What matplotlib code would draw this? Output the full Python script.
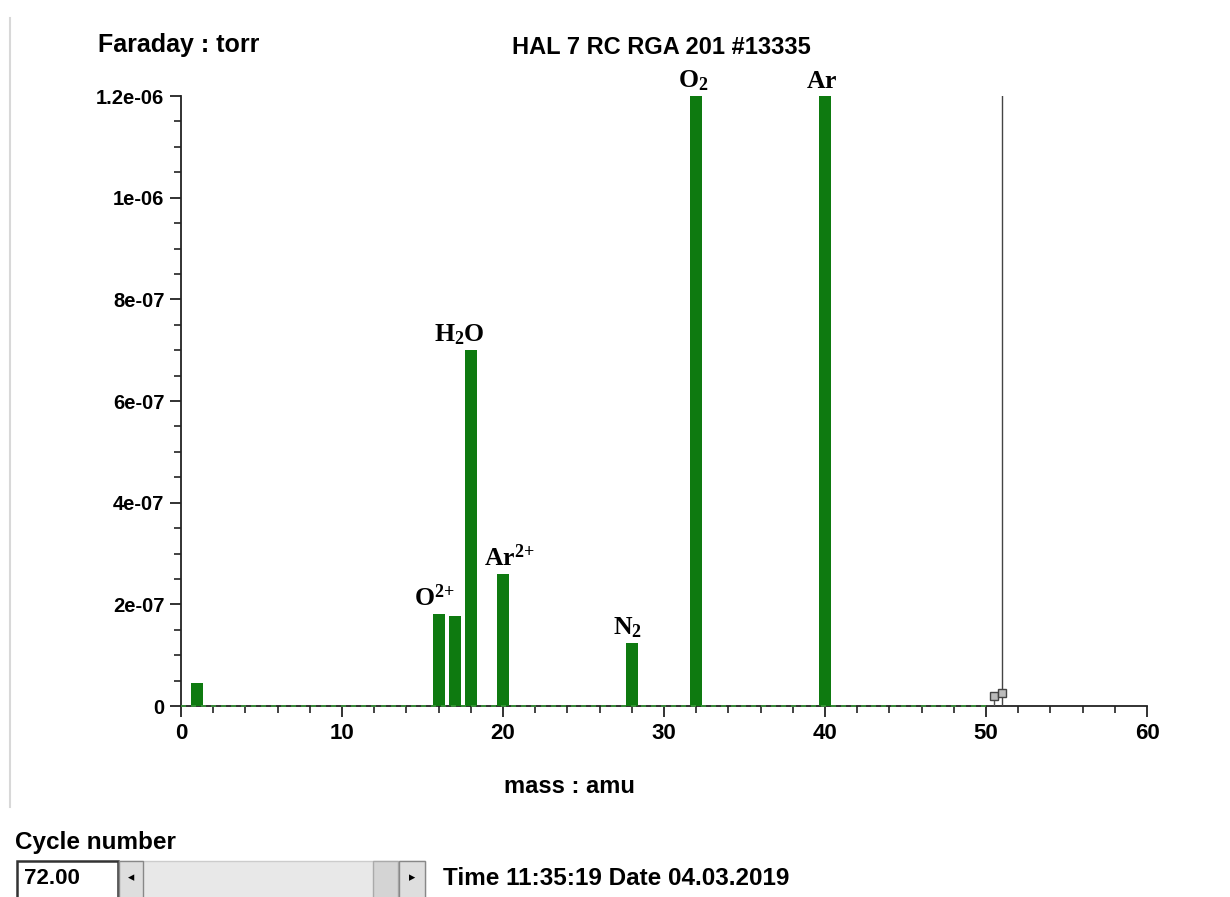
import matplotlib
matplotlib.use("Agg")
import matplotlib.pyplot as plt
from matplotlib.patches import Rectangle
from matplotlib.ticker import MultipleLocator

plt.rcParams["font.family"] = ["Liberation Sans", "DejaVu Sans"]
plt.rcParams["mathtext.fontset"] = "custom"
plt.rcParams["mathtext.rm"] = "Liberation Serif:bold"
plt.rcParams["mathtext.it"] = "Liberation Serif:bold"
plt.rcParams["mathtext.bf"] = "Liberation Serif:bold"

# peak heights (torr) per mass (amu)
masses = [1, 16, 17, 18, 20, 28, 32, 40]
pressures = [4.5e-8, 1.81e-7, 1.77e-7, 7.0e-7, 2.6e-7, 1.24e-7, 1.2e-6, 1.2e-6]

# species labels: mass, text, x shift (amu)
label_mass = [16, 18, 20, 28, 32, 40]
label_text = [r"$\mathrm{O^{2{+}}}$", r"$\mathrm{H_2O}$", r"$\mathrm{Ar^{2{+}}}$",
              r"$\mathrm{N_2}$", r"$\mathrm{O_2}$", r"$\mathrm{Ar}$"]
label_dx = [-0.3, -0.7, 0.4, -0.3, -0.2, -0.2]

# tail of the scan still being acquired
tail_mass = [50.0, 50.5, 51.0]
tail_p = [0.0, 2.0e-8, 2.6e-8]
cursor_mass = 51.0

GREEN = "#0e7a10"

fig = plt.figure(figsize=(12.3, 8.97), dpi=100)
ax = fig.add_axes([0.1472, 0.2129, 0.7854, 0.680])

ax.bar(masses, pressures, width=0.75, color=GREEN, zorder=3)
ax.plot([0, 50], [0, 0], color="#3a9a3a", lw=1.2, ls=(0, (3, 3)), zorder=4, clip_on=False)
ax.plot(tail_mass, tail_p, color="#555555", lw=1, drawstyle="steps-post", zorder=4)
ax.plot(tail_mass[1:], tail_p[1:], ls="none", marker="s", ms=6, mfc="#bbbbbb",
        mec="#444444", mew=1, zorder=5)
ax.plot([cursor_mass, cursor_mass], [0, 1.2e-6], color="#444444", lw=1, zorder=4)

for m, t, dx in zip(label_mass, label_text, label_dx):
    h = pressures[masses.index(m)]
    ax.annotate(t, (m + dx, h), xytext=(0, 2), textcoords="offset points",
                ha="center", va="bottom", fontsize=18.5, annotation_clip=False)

ax.set_xlim(0, 60)
ax.set_ylim(0, 1.2e-6)
for s in ("top", "right"):
    ax.spines[s].set_visible(False)
for s in ("left", "bottom"):
    ax.spines[s].set_linewidth(1.3)
    ax.spines[s].set_color("#222222")

ax.xaxis.set_major_locator(MultipleLocator(10))
ax.xaxis.set_minor_locator(MultipleLocator(2))
ax.yaxis.set_minor_locator(MultipleLocator(5e-8))
ax.set_yticks([0, 2e-7, 4e-7, 6e-7, 8e-7, 1e-6, 1.2e-6])
ax.set_yticklabels(["0", "2e-07", "4e-07", "6e-07", "8e-07", "1e-06", "1.2e-06"])
ax.tick_params(which="major", length=8, width=1.3, color="#222222",
               labelsize=14.5, pad=4)
ax.tick_params(axis="x", which="major", labelsize=16)
ax.tick_params(which="minor", length=5, width=1.2, color="#222222")
for lbl in ax.get_xticklabels() + ax.get_yticklabels():
    lbl.set_fontweight("bold")

fig.text(0.145, 0.950, "Faraday : torr", ha="center", va="center",
         fontsize=18, fontweight="bold")
fig.text(0.538, 0.947, "HAL 7 RC RGA 201 #13335", ha="center", va="center",
         fontsize=17, fontweight="bold")
fig.text(0.463, 0.123, "mass : amu", ha="center", va="center",
         fontsize=17, fontweight="bold")

# cycle selector strip along the bottom
fig.add_artist(plt.Line2D([0.008, 0.008], [0.1, 0.98], color="#d8d8d8", lw=1.5))
W, H = 1230.0, 897.0
fig.text(15 / W, 1 - 842 / H, "Cycle number", ha="left", va="center",
         fontsize=17.5, fontweight="bold")


def box(x0, y0, x1, y1, **kw):
    fig.add_artist(Rectangle((x0 / W, 1 - y1 / H), (x1 - x0) / W, (y1 - y0) / H,
                             transform=fig.transFigure, **kw))


box(17, 861, 118, 898, facecolor="white", edgecolor="#333333", lw=1.8)
fig.text(24 / W, 1 - 878 / H, "72.00", ha="left", va="center", fontsize=16,
         fontweight="bold")
box(119, 861, 425, 898, facecolor="#e8e8e8", edgecolor="#cccccc", lw=1)
box(119, 861, 143, 898, facecolor="#dedede", edgecolor="#888888", lw=1)
box(373, 861, 398, 898, facecolor="#d4d4d4", edgecolor="#aaaaaa", lw=1)
box(399, 861, 425, 898, facecolor="#dedede", edgecolor="#888888", lw=1)
fig.text(131 / W, 1 - 878 / H, "\u25c2", ha="center", va="center", fontsize=9,
         family="DejaVu Sans")
fig.text(412 / W, 1 - 878 / H, "\u25b8", ha="center", va="center", fontsize=9,
         family="DejaVu Sans")
fig.text(443 / W, 1 - 878 / H, "Time 11:35:19 Date 04.03.2019", ha="left",
         va="center", fontsize=17.5, fontweight="bold")

fig.savefig("out.png", dpi=100, facecolor="white")
